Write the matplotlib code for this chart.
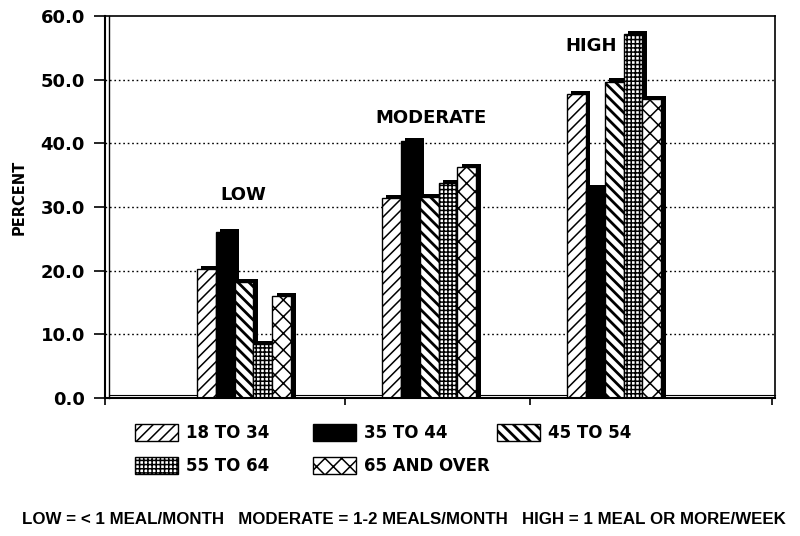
import matplotlib
matplotlib.use("Agg")
import matplotlib.pyplot as plt
import numpy as np
from matplotlib.patches import Patch

# ---- data ----
groups = ["LOW", "MODERATE", "HIGH"]
ages = ["18 TO 34", "35 TO 44", "45 TO 54", "55 TO 64", "65 AND OVER"]
age_18_34 = [20.2, 31.4, 47.7]
age_35_44 = [26.0, 40.4, 33.0]
age_45_54 = [18.2, 31.6, 49.7]
age_55_64 = [8.5, 33.7, 57.2]
age_65_up = [16.0, 36.3, 46.9]
yticks = [0, 10, 20, 30, 40, 50, 60]
footnote = "LOW = < 1 MEAL/MONTH   MODERATE = 1-2 MEALS/MONTH   HIGH = 1 MEAL OR MORE/WEEK"

series = [age_18_34, age_35_44, age_45_54, age_55_64, age_65_up]
fills = ["white", "black", "white", "white", "white"]
hatches = ["///", None, "\\\\\\", "++++", "xx"]
hatch_lw = [1.1, 1.1, 2.0, 1.1, 1.1]

plt.rcParams["font.family"] = ["DejaVu Sans"]
plt.rcParams["font.weight"] = "bold"
plt.rcParams["hatch.linewidth"] = 1.1

fig = plt.figure(figsize=(8, 5.36), dpi=100)
ax = fig.add_axes([104.5 / 800, 138 / 536, 670.5 / 800, 382 / 536])

x = np.arange(len(groups))
w = 0.1025
dx, dy = 0.026, 0.5   # depth of the fake 3d side/top


def set_hlw(patch, lw):
    if hasattr(patch, "set_hatch_linewidth"):
        patch.set_hatch_linewidth(lw)


for i, vals in enumerate(series):
    off = (i - 2) * w
    # dark side + top of each column
    ax.bar(x + off + dx, np.array(vals) + dy, width=w, color="black",
           linewidth=0, zorder=2 + 2 * i)
    bars = ax.bar(x + off, vals, width=w, facecolor=fills[i], hatch=hatches[i],
                  edgecolor="black", linewidth=1.0, zorder=3 + 2 * i)
    for b in bars:
        set_hlw(b, hatch_lw[i])

# group labels (offset from group centre, height in data units)
label_pos = [(-0.005, 31.9), (0.01, 44.0), (-0.125, 55.3)]
for gx, name, (lx, ly) in zip(x, groups, label_pos):
    ax.text(gx + lx, ly, name, ha="center", va="center", fontsize=13,
            fontweight="bold", zorder=20)

ax.set_xlim(-0.754, 2.870)
ax.set_ylim(0, 60)

# dotted grid
for yv in yticks[1:-1]:
    ax.axhline(yv, color="black", lw=1.0, ls=(0, (1.2, 2.0)), zorder=1)

# double wall/floor lines
ax.plot([0.006, 0.006], [0, 1], transform=ax.transAxes, color="black", lw=1.0,
        clip_on=False, zorder=30)
ax.plot([0.006, 1], [0.008, 0.008], transform=ax.transAxes, color="black", lw=0.8,
        clip_on=False, zorder=1)

for s in ["left", "bottom"]:
    ax.spines[s].set_linewidth(1.5)
for s in ["top", "right"]:
    ax.spines[s].set_linewidth(1.2)
ax.spines["bottom"].set_zorder(30)

ax.set_yticks(yticks)
ax.set_yticklabels([f"{v:.1f}" for v in yticks], fontsize=13, fontweight="bold")
ax.tick_params(axis="y", direction="out", length=8, width=1.2, pad=6)
ax.set_xticks([-0.754, 0.546, 1.546, 2.854])
ax.set_xticklabels([])
ax.tick_params(axis="x", direction="out", length=5, width=1.2)

fig.text(19 / 800, 1 - 197 / 536, "PERCENT", rotation=90, ha="center", va="center",
         fontsize=10.5, fontweight="bold")

# legend, three columns placed separately
handles = [Patch(facecolor=fills[i], edgecolor="black", hatch=hatches[i], lw=1.0)
           for i in range(len(ages))]
cols = [([0, 3], 135), ([1, 4], 313), ([2], 497)]
for idx, left in cols:
    leg = fig.legend([handles[k] for k in idx], [ages[k] for k in idx],
                     loc="upper left", bbox_to_anchor=(left / 800, 1 - 424 / 536),
                     frameon=False, handlelength=2.6, handleheight=1.2,
                     handletextpad=0.45, labelspacing=0.9, borderpad=0,
                     borderaxespad=0, prop={"weight": "bold", "size": 12})
    for k, lh in zip(idx, leg.legend_handles):
        set_hlw(lh, hatch_lw[k])

fig.text(22 / 800, 1 - 519 / 536, footnote, ha="left", va="center", fontsize=12.2,
         family=["Liberation Sans", "DejaVu Sans"], fontweight="bold")

fig.savefig("out.png", dpi=100)
